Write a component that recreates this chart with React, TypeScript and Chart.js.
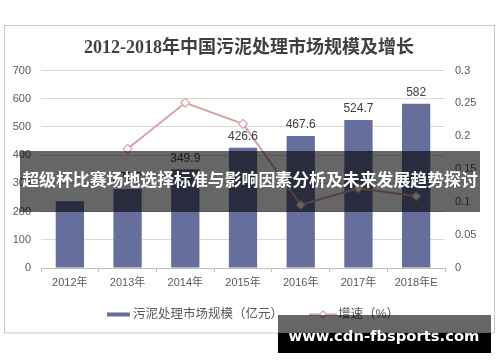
import React, { useEffect, useRef } from "react";
import { Chart, registerables } from "chart.js";

Chart.register(...registerables);

const categories = ["2012年", "2013年", "2014年", "2015年", "2016年", "2017年", "2018年E"];
const marketSize = [237, 279.7, 349.9, 426.6, 467.6, 524.7, 582];
const growthRate: (number | null)[] = [null, 0.181, 0.251, 0.219, 0.096, 0.121, 0.109];
const barLabels = ["", "279.7", "349.9", "426.6", "467.6", "524.7", "582"];
const titleText = "2012-2018年中国污泥处理市场规模及增长";
const barLegend = "污泥处理市场规模（亿元）";
const lineLegend = "增速（%）";
const bannerText = "超级杯比赛场地选择标准与影响因素分析及未来发展趋势探讨";
const watermarkText = "www.cdn-fbsports.com";

const BAR_COLOR = "#666f9b";
const LINE_COLOR = "#d9a3a1";
const TEXT_COLOR = "#595959";
const SANS = "'Liberation Sans', 'Noto Sans CJK SC', sans-serif";

const decorPlugin = {
  id: "decor",
  beforeDraw(chart: any) {
    const ctx = chart.ctx;
    ctx.save();
    ctx.fillStyle = "#ffffff";
    ctx.fillRect(0, 0, chart.width, chart.height);
    ctx.strokeStyle = "#c8c8c8";
    ctx.lineWidth = 1;
    ctx.strokeRect(4.5, 25.5, 490, 307.5);
    ctx.fillStyle = "#404040";
    ctx.font = "bold 18px 'Liberation Serif', 'Noto Sans CJK SC', serif";
    ctx.textAlign = "center";
    ctx.textBaseline = "middle";
    ctx.fillText(titleText, 249, 48);
    ctx.restore();
  },
  afterDatasetsDraw(chart: any) {
    const ctx = chart.ctx;
    const meta = chart.getDatasetMeta(0);
    ctx.save();
    ctx.fillStyle = "#404040";
    ctx.font = "12px " + SANS;
    ctx.textAlign = "center";
    ctx.textBaseline = "bottom";
    meta.data.forEach((el: any, i: number) => {
      if (barLabels[i]) ctx.fillText(barLabels[i], el.x, el.y - 5);
    });
    ctx.restore();
  },
  afterDraw(chart: any) {
    const ctx = chart.ctx;
    ctx.save();
    // legend
    ctx.fillStyle = BAR_COLOR;
    ctx.fillRect(107, 312.5, 23, 4);
    ctx.fillStyle = TEXT_COLOR;
    ctx.font = "12.5px " + SANS;
    ctx.textAlign = "left";
    ctx.textBaseline = "middle";
    ctx.fillText(barLegend, 133, 314.5);
    ctx.strokeStyle = LINE_COLOR;
    ctx.lineWidth = 2;
    ctx.beginPath();
    ctx.moveTo(309, 314.5);
    ctx.lineTo(337, 314.5);
    ctx.stroke();
    ctx.fillStyle = "#ffffff";
    ctx.lineWidth = 1.2;
    ctx.beginPath();
    ctx.moveTo(323, 311);
    ctx.lineTo(326.5, 314.5);
    ctx.lineTo(323, 318);
    ctx.lineTo(319.5, 314.5);
    ctx.closePath();
    ctx.fill();
    ctx.stroke();
    ctx.fillStyle = TEXT_COLOR;
    ctx.fillText(lineLegend, 338, 314.5);

    // banner
    ctx.fillStyle = "rgba(0,0,0,0.6)";
    ctx.fillRect(20, 151, 460, 61);
    ctx.fillStyle = "#ffffff";
    ctx.font = "bold 16px 'Noto Sans CJK SC', sans-serif";
    let w = ctx.measureText(bannerText).width;
    const bs = (16 * 456) / w;
    ctx.font = "bold " + bs.toFixed(2) + "px 'Noto Sans CJK SC', sans-serif";
    ctx.textAlign = "center";
    ctx.textBaseline = "middle";
    ctx.fillText(bannerText, 250, 179.5);

    // watermark
    ctx.fillStyle = "rgba(0,0,0,0.6)";
    ctx.fillRect(278, 315, 213, 18);
    ctx.fillStyle = "#000000";
    ctx.fillRect(278, 333, 213, 20);
    ctx.fillStyle = "#ffffff";
    ctx.font = "bold 20px 'DejaVu Sans', sans-serif";
    w = ctx.measureText(watermarkText).width;
    const ws = (20 * 191) / w;
    ctx.font = "bold " + ws.toFixed(2) + "px 'DejaVu Sans', sans-serif";
    ctx.fillText(watermarkText, 384, 337);
    ctx.restore();
  },
};

export default function App() {
  const ref = useRef<HTMLCanvasElement>(null);
  useEffect(() => {
    if (!ref.current) return;
    const chart = new Chart(ref.current, {
      type: "bar",
      data: {
        labels: categories,
        datasets: [
          {
            type: "bar",
            label: barLegend,
            data: marketSize,
            backgroundColor: BAR_COLOR,
            barPercentage: 1,
            categoryPercentage: 0.49,
            yAxisID: "y",
            order: 1,
          },
          {
            type: "line",
            label: lineLegend,
            data: growthRate as any,
            borderColor: LINE_COLOR,
            borderWidth: 2,
            pointStyle: "rectRot",
            pointRadius: 4.5,
            pointBackgroundColor: "#ffffff",
            pointBorderColor: LINE_COLOR,
            pointBorderWidth: 1.2,
            yAxisID: "y2",
            order: 0,
          } as any,
        ],
      },
      options: {
        responsive: false,
        animation: false,
        devicePixelRatio: 1,
        layout: { padding: { top: 70.5, left: 0, right: 0, bottom: 0 } },
        plugins: {
          legend: { display: false },
          title: { display: false },
          tooltip: { enabled: false },
        },
        scales: {
          x: {
            grid: {
              drawOnChartArea: false,
              drawTicks: true,
              tickLength: 4,
              color: "#bfbfbf",
              offset: true,
            },
            border: { display: true, color: "#bfbfbf" },
            ticks: {
              color: TEXT_COLOR,
              font: { size: 11, family: SANS },
              padding: 4,
              maxRotation: 0,
            },
            afterFit: (s: any) => {
              s.height = 94;
            },
          },
          y: {
            position: "left",
            min: 0,
            max: 700,
            ticks: {
              stepSize: 100,
              color: TEXT_COLOR,
              font: { size: 11, family: SANS },
              padding: 10,
            },
            grid: { color: "#d9d9d9", drawTicks: false },
            border: { display: false },
            afterFit: (s: any) => {
              s.width = 41;
            },
          },
          y2: {
            position: "right",
            min: 0,
            max: 0.3,
            ticks: {
              stepSize: 0.05,
              color: TEXT_COLOR,
              font: { size: 11, family: SANS },
              padding: 10,
              callback: (v: any) => String(Number(Number(v).toFixed(2))),
            },
            grid: { display: false, drawTicks: false },
            border: { display: false },
            afterFit: (s: any) => {
              s.width = 55;
            },
          },
        },
      },
      plugins: [decorPlugin],
    } as any);
    return () => chart.destroy();
  }, []);
  return (
    <div style={{ position: "fixed", left: 0, top: 0, width: 500, height: 362 }}>
      <canvas ref={ref} width={500} height={362} style={{ display: "block" }} />
    </div>
  );
}
